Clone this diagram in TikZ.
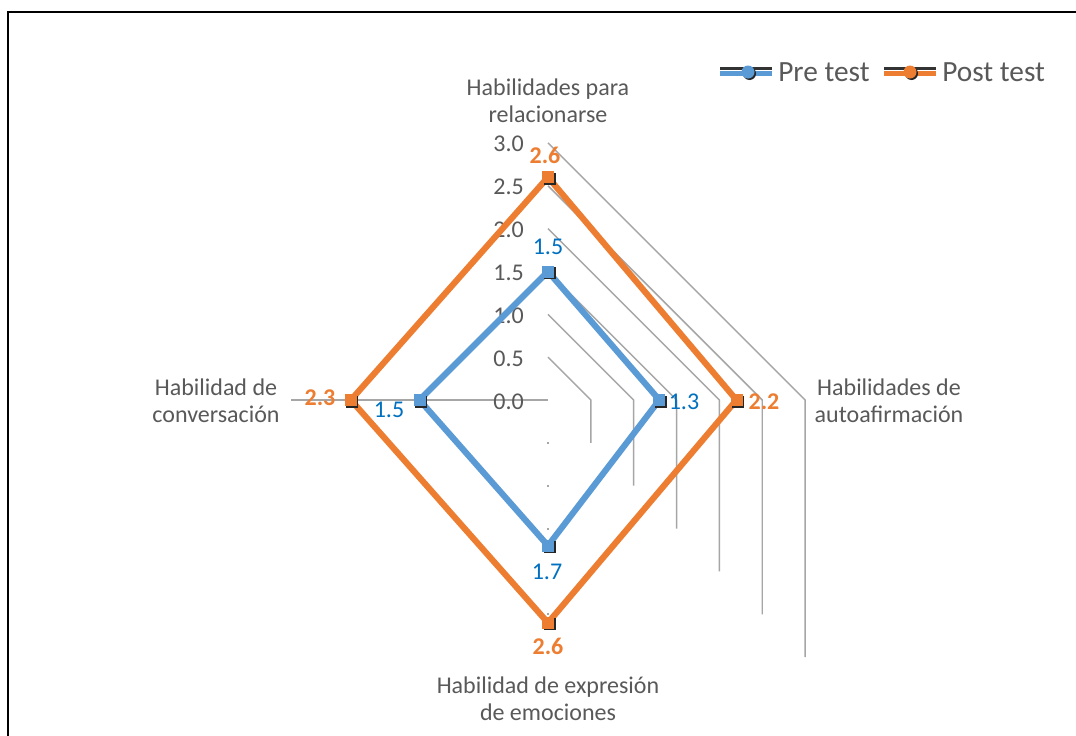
\documentclass[tikz,border=0pt]{standalone}
\usepackage{fontspec}
\setmainfont{Carlito}
\definecolor{pre}{HTML}{5B9BD5}
\definecolor{post}{HTML}{ED7D31}
\definecolor{prelab}{HTML}{0070C0}
\definecolor{txt}{HTML}{595959}
\definecolor{gridc}{HTML}{A6A6A6}
\begin{document}
\begin{tikzpicture}[x=0.75pt,y=-0.75pt,
  gridl/.style={draw=gridc,line width=1.1pt},
  series/.style={line width=4.6pt,line join=miter},
  mk/.style={rectangle,minimum size=9pt,inner sep=0pt,draw=none},
  mkshadow/.style={mk,fill=black!85},
  axlab/.style={text=txt,font=\fontsize{18}{20.6}\selectfont,anchor=east,inner sep=0pt},
  catlab/.style={text=txt,font=\fontsize{18}{20.6}\selectfont,align=center,inner sep=0pt},
  prelabel/.style={text=prelab,font=\fontsize{18}{20}\selectfont,inner sep=0pt},
  postlabel/.style={text=post,font=\bfseries\fontsize{18}{20}\selectfont,inner sep=0pt},
  leglab/.style={text=txt,font=\fontsize{22}{26}\selectfont,anchor=west,inner sep=0pt}
]
\useasboundingbox (0,0) rectangle (1076,736);
\fill[white] (0,0) rectangle (1076,736);
% frame
\draw[line width=1.5pt] (8,736) -- (8,11.5) -- (1076,11.5);

% grid
\foreach \r in {1,...,6}{
  \pgfmathsetmacro{\d}{\r*42.85}
  \draw[gridl] (548,400-\d) -- (548+\d,400) -- (548+\d,400+\d);
}
\draw[gridl] (548,400) -- (291,400);
\foreach \yy in {443,486,529,614}{
  \fill[gridc] (547.3,\yy-0.7) rectangle (548.7,\yy+0.7);
}

% axis labels
\node[axlab] (t0) at (524,402) {0.0};
\node[axlab] (t1) at (524,359) {0.5};
\node[axlab] (t2) at (524,316) {1.0};
\node[axlab] (t3) at (524,273) {1.5};
\node[axlab] (t4) at (524,230) {2.0};
\node[axlab] (t5) at (524,187) {2.5};
\node[axlab] (t6) at (524,144) {3.0};

% category labels
\node[catlab] (c1) at (548,101) {Habilidades para\\relacionarse};
\node[catlab] (c2) at (889,401) {Habilidades de\\autoafirmación};
\node[catlab] (c3) at (216,401) {Habilidad de\\conversación};
\node[catlab] (c4) at (548,699) {Habilidad de expresión\\de emociones};

% data points
\coordinate (a1) at (548,271.5);
\coordinate (a2) at (659.4,400);
\coordinate (a3) at (548,545.7);
\coordinate (a4) at (419.5,400);
\coordinate (b1) at (548,177.2);
\coordinate (b2) at (736.5,400);
\coordinate (b3) at (548,622.8);
\coordinate (b4) at (350.9,400);

\draw[series,post] (b1) -- (b2) -- (b3) -- (b4) -- cycle;
\draw[series,pre] (a1) -- (a2) -- (a3) -- (a4) -- cycle;

\foreach \p in {a1,a2,a3,a4}{
  \node[mkshadow] at ([shift={(1.5,1.5)}]\p) {};
  \node[mk,fill=pre] at (\p) {};
}
\foreach \p in {b1,b2,b3,b4}{
  \node[mkshadow] at ([shift={(1.5,1.5)}]\p) {};
  \node[mk,fill=post] at (\p) {};
}

% data labels
\node[prelabel] (la1) at (548,247) {1.5};
\node[prelabel] (la2) at (684,402) {1.3};
\node[prelabel] (la3) at (547,572) {1.7};
\node[prelabel] (la4) at (389,410) {1.5};
\node[postlabel] (lb1) at (545,155) {2.6};
\node[postlabel] (lb2) at (764,402) {2.2};
\node[postlabel] (lb3) at (548,646) {2.6};
\node[postlabel] (lb4) at (320,398) {2.3};

% legend
\coordinate (l1a) at (720,72);
\coordinate (l1b) at (772,72);
\coordinate (l2a) at (884,72);
\coordinate (l2b) at (936,72);
\draw[black!80,line width=2pt] ([yshift=2.5]l1a) -- ([yshift=2.5]l1b);
\draw[pre,line width=3.5pt] ([yshift=-1]l1a) -- ([yshift=-1]l1b);
\fill[black!85] (749.5,73.5) circle (6.5);
\fill[pre] (748,72) circle (6.5);
\draw[black!80,line width=2pt] ([yshift=2.5]l2a) -- ([yshift=2.5]l2b);
\draw[post,line width=3.5pt] ([yshift=-1]l2a) -- ([yshift=-1]l2b);
\fill[black!85] (911.5,73.5) circle (6.5);
\fill[post] (910,72) circle (6.5);
\node[leglab] (lg1) at (778,72) {Pre test};
\node[leglab] (lg2) at (942,72) {Post test};
\end{tikzpicture}
\end{document}
